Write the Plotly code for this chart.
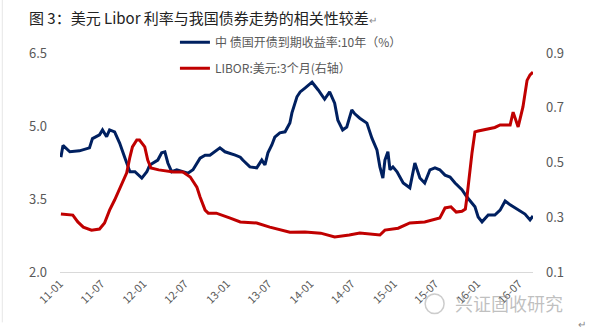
import plotly.graph_objects as go

# 中债国开债到期收益率:10年（%）
cdb_dates = ["2011-01-05","2011-01-14","2011-02-13","2011-03-27","2011-05-10","2011-05-23","2011-06-23","2011-07-06","2011-07-24","2011-08-06","2011-08-28","2011-09-19","2011-10-11","2011-11-03","2011-11-25","2011-12-25","2012-01-16","2012-01-29","2012-03-04","2012-03-21","2012-04-04","2012-04-17","2012-05-04","2012-05-26","2012-06-22","2012-07-14","2012-08-05","2012-08-22","2012-09-05","2012-09-27","2012-10-18","2012-12-01","2012-12-23","2013-02-06","2013-02-28","2013-03-11","2013-04-11","2013-05-11","2013-06-02","2013-06-16","2013-06-29","2013-07-16","2013-07-29","2013-08-20","2013-09-12","2013-10-03","2013-10-12","2013-11-03","2013-11-17","2013-12-08","2013-12-30","2014-01-08","2014-02-04","2014-03-04","2014-03-26","2014-04-17","2014-05-01","2014-05-22","2014-06-09","2014-07-01","2014-07-14","2014-08-05","2014-09-05","2014-09-27","2014-10-19","2014-11-01","2014-11-14","2014-11-23","2014-12-06","2014-12-15","2014-12-28","2015-01-15","2015-02-11","2015-03-12","2015-04-03","2015-04-25","2015-05-16","2015-06-08","2015-06-30","2015-07-21","2015-08-13","2015-09-04","2015-09-26","2015-10-26","2015-11-17","2015-12-09","2015-12-22","2016-01-05","2016-01-22","2016-02-18","2016-03-18","2016-04-10","2016-05-02","2016-05-24","2016-06-28","2016-07-28","2016-08-19","2016-09-01"]
cdb_values = [4.36,4.60,4.47,4.49,4.55,4.74,4.82,4.92,4.78,4.92,4.88,4.65,4.36,4.06,4.06,3.93,4.06,4.20,4.30,4.45,4.47,4.24,4.06,4.10,4.06,4.03,4.10,4.24,4.34,4.40,4.40,4.55,4.47,4.40,4.36,4.30,4.16,4.14,4.30,4.20,4.45,4.61,4.77,4.86,4.88,5.06,5.27,5.60,5.70,5.78,5.88,5.90,5.74,5.55,5.70,5.47,5.12,4.92,4.98,5.33,5.25,5.16,5.06,4.75,4.51,4.16,3.93,4.30,4.47,4.10,4.16,4.06,3.83,3.73,4.24,3.93,3.83,4.10,4.14,4.10,3.99,3.95,3.83,3.69,3.54,3.42,3.34,3.13,3.03,3.17,3.17,3.27,3.46,3.38,3.27,3.19,3.07,3.15]

# LIBOR:美元:3个月(右轴）
libor_dates = ["2011-01-05","2011-02-26","2011-03-20","2011-04-13","2011-05-19","2011-06-23","2011-07-15","2011-08-06","2011-08-28","2011-09-28","2011-10-20","2011-11-03","2011-11-14","2011-12-03","2011-12-15","2012-01-07","2012-01-20","2012-02-03","2012-03-08","2012-05-12","2012-06-22","2012-07-24","2012-08-22","2012-09-05","2012-09-27","2012-10-11","2012-11-15","2013-01-15","2013-02-28","2013-05-11","2013-07-07","2013-10-03","2013-12-08","2014-02-15","2014-04-17","2014-06-20","2014-08-05","2014-11-01","2014-11-23","2015-01-20","2015-03-12","2015-05-16","2015-07-21","2015-08-13","2015-09-08","2015-10-01","2015-10-26","2015-11-10","2015-11-17","2015-12-09","2015-12-22","2016-01-05","2016-02-18","2016-03-18","2016-04-10","2016-05-24","2016-06-06","2016-06-28","2016-07-19","2016-08-06","2016-08-19","2016-09-01"]
libor_values = [0.312,0.308,0.283,0.264,0.253,0.257,0.279,0.326,0.363,0.418,0.462,0.520,0.557,0.582,0.582,0.557,0.509,0.480,0.473,0.465,0.465,0.447,0.410,0.374,0.326,0.315,0.315,0.297,0.283,0.279,0.264,0.245,0.246,0.242,0.228,0.235,0.242,0.235,0.253,0.260,0.279,0.283,0.297,0.334,0.338,0.319,0.322,0.330,0.374,0.535,0.612,0.615,0.622,0.628,0.637,0.637,0.684,0.630,0.703,0.800,0.820,0.830]

tick_vals = ["2011-01-01","2011-07-01","2012-01-01","2012-07-01","2013-01-01","2013-07-01","2014-01-01","2014-07-01","2015-01-01","2015-07-01","2016-01-01","2016-07-01"]
tick_text = ["11-01","11-07","12-01","12-07","13-01","13-07","14-01","14-07","15-01","15-07","16-01","16-07"]

name_cdb = "中 债国开债到期收益率:10年（%）"
name_libor = "LIBOR:美元:3个月(右轴）"

FONT = "Noto Sans CJK SC"
GREY = "#595959"

fig = go.Figure()
fig.add_trace(go.Scatter(x=cdb_dates, y=cdb_values, name=name_cdb, mode="lines",
                         line=dict(color="#002060", width=3), legendgroup="a"))
fig.add_trace(go.Scatter(x=libor_dates, y=libor_values, name=name_libor, mode="lines",
                         line=dict(color="#C00000", width=3), yaxis="y2", legendgroup="b"))

fig.update_layout(
    width=597, height=331,
    margin=dict(l=60, r=64, t=53, b=59),
    paper_bgcolor="white", plot_bgcolor="white",
    font=dict(family=FONT, color=GREY, size=12),
    showlegend=True,
    legend=dict(x=0.243, y=1.115, xanchor="left", yanchor="top",
                bgcolor="rgba(0,0,0,0)", font=dict(size=12, color=GREY),
                tracegroupgap=7, itemwidth=30),
    xaxis=dict(type="date", range=["2011-01-01", "2016-09-01"],
               tickvals=tick_vals, ticktext=tick_text, tickangle=-45,
               showgrid=False, zeroline=False, showline=True, linecolor="#d9d9d9",
               linewidth=1, ticks="", tickfont=dict(size=11, color=GREY)),
    yaxis=dict(range=[2.0, 6.5], tickvals=[2.0, 3.5, 5.0, 6.5], tickformat=".1f",
               showgrid=False, zeroline=False, showline=False, ticks="",
               tickfont=dict(size=13, color=GREY), ticklabelstandoff=12),
    yaxis2=dict(range=[0.1, 0.9], tickvals=[0.1, 0.3, 0.5, 0.7, 0.9], tickformat=".1f",
                overlaying="y", side="right", showgrid=False, zeroline=False,
                showline=False, ticks="", tickfont=dict(size=13, color=GREY),
                ticklabelstandoff=12),
    shapes=[
        dict(type="line", xref="paper", yref="paper", x0=-0.122, x1=-0.122, y0=-0.23, y1=1.25,
             line=dict(color="#e6e6e6", width=1)),
        dict(type="circle", xref="paper", yref="paper", x0=0.772, x1=0.812, y0=-0.19, y1=-0.10,
             line=dict(color="rgba(170,170,170,0.6)", width=1.5)),
    ],
    annotations=[
        dict(text="图 3：美元 Libor 利率与我国债券走势的相关性较差<span style='font-size:10px;color:#888'>↵</span>",
             xref="paper", yref="paper", x=-0.07, y=1.164, xanchor="left", yanchor="middle",
             showarrow=False, font=dict(size=15, color="#222", family=FONT)),
        dict(text="兴证固收研究", xref="paper", yref="paper", x=1.068, y=-0.141,
             xanchor="right", yanchor="middle", showarrow=False,
             font=dict(size=18, color="rgba(150,150,150,0.6)", family=FONT)),
        dict(text="↵", xref="paper", yref="paper", x=1.09, y=-0.19,
             xanchor="left", yanchor="top", showarrow=False,
             font=dict(size=10, color="#888", family=FONT)),
    ],
)

fig.write_html("out.html")
